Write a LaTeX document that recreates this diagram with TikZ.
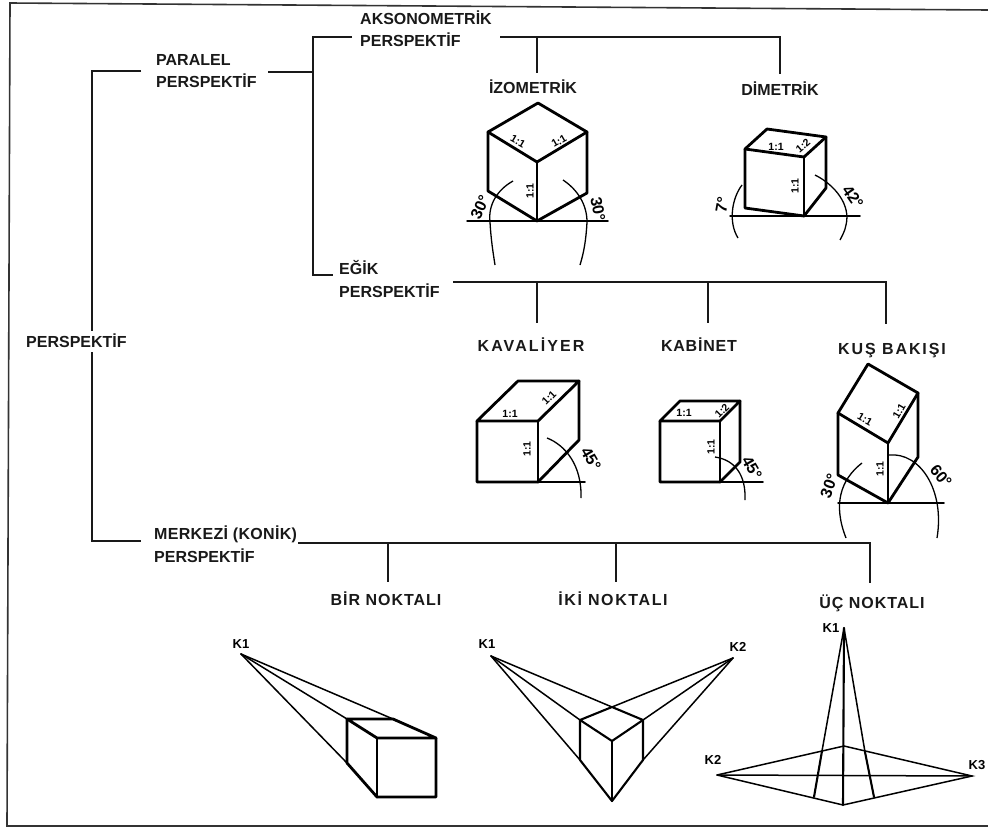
\documentclass[tikz,border=0pt]{standalone}
\usepackage{fontspec}
\setmainfont{Liberation Sans}
\newcommand{\lsp}[1]{\addfontfeature{LetterSpace=#1}}
\tikzset{
 x=1pt,y=-1pt,
 frame/.style={draw=black!80,line width=1.6pt},
 tree/.style={draw=black!90,line width=1.6pt},
 thick edge/.style={draw=black,line width=2.8pt,line join=round,line cap=round},
 mid edge/.style={draw=black,line width=2.1pt,line join=round,line cap=round},
 thin edge/.style={draw=black,line width=1.5pt,line cap=round},
 arcline/.style={draw=black,line width=1.3pt},
 lab/.style={font=\fontsize{16}{22.5}\selectfont\bfseries,inner sep=0pt,align=left,text=black!90},
 small/.style={font=\fontsize{13}{13}\selectfont\bfseries,inner sep=0pt},
 ratio/.style={font=\fontsize{10.5}{10.5}\selectfont\bfseries,inner sep=0pt},
 ang/.style={font=\fontsize{16}{16}\selectfont\bfseries,inner sep=0pt},
}
\begin{document}
\begin{tikzpicture}
\useasboundingbox (0,0) rectangle (988,835);
\fill[white] (0,0) rectangle (988,835);
\draw[frame] (988,10) -- (10,3) -- (7,826) -- (988,826);
% labels
\node[lab,anchor=west] (pers) at (26,341) {PERSPEKTİF};
\node[lab,anchor=west] (par) at (156,71) {PARALEL\\PERSPEKTİF};
\node[lab,anchor=west,font=\fontsize{16}{22}\selectfont\bfseries] (aks) at (360,29) {AKSONOMETRİK\\PERSPEKTİF};
\node[lab,anchor=west] (egik) at (339,279) {EĞİK\\PERSPEKTİF};
\node[lab,anchor=west] (merk) at (154,544) {\lsp{2}MERKEZİ (KONİK)\\PERSPEKTİF};
\node[lab] (izo) at (533,87) {İZOMETRİK};
\node[lab] (dim) at (780,89) {DİMETRİK};
\node[lab] (kav) at (531,345) {\lsp{13}KAVALİYER};
\node[lab] (kab) at (699,345) {\lsp{5}KABİNET};
\node[lab] (kus) at (892,351) {\lsp{12}KUŞ BAKIŞI};
\node[lab] (bir) at (386,599) {\lsp{6}BİR NOKTALI};
\node[lab] (iki) at (613,599) {\lsp{10}İKİ NOKTALI};
\node[lab] (uc) at (872,603) {\lsp{6}ÜÇ NOKTALI};
% tree
\coordinate (pt) at (92,71);
\coordinate (pb) at (92,541);
\coordinate (j1) at (313,72);
\coordinate (j1t) at (313,37);
\coordinate (j1b) at (313,275);
\coordinate (j2) at (537,37);
\coordinate (j3) at (780,37);
\coordinate (j4) at (537,282);
\coordinate (j5) at (708,282);
\coordinate (j6) at (886,282);
\coordinate (j7) at (388,543);
\coordinate (j8) at (616,543);
\coordinate (j9) at (870,543);
\draw[tree] (141,71) -- (pt) -- (92,331);
\draw[tree] (92,352) -- (pb) -- (141,541);
\draw[tree] (268,72) -- (j1);
\draw[tree] (352,37) -- (j1t) -- (j1b) -- (333,275);
\draw[tree] (500,37) -- (j3) -- (780,74);
\draw[tree] (j2) -- (537,73);
\draw[tree] (453,282) -- (j6) -- (886,324);
\draw[tree] (j4) -- (537,323);
\draw[tree] (j5) -- (708,323);
\draw[tree] (298,543) -- (j9) -- (870,583);
\draw[tree] (j7) -- (388,582);
\draw[tree] (j8) -- (616,582);
% izometrik
\coordinate (i1) at (538,103);\coordinate (i2) at (587,132);\coordinate (i3) at (537,162);\coordinate (i4) at (488,132);
\coordinate (i5) at (488,191);\coordinate (i6) at (537,221);\coordinate (i7) at (587,193);
\draw[thick edge] (i1)--(i2)--(i3)--(i4)--cycle;
\draw[thick edge] (i4)--(i5)--(i6)--(i7)--(i2);
\draw[thick edge] (i3)--(i6);
\draw[thin edge] (467,221)--(608,221);
\draw[arcline] (513,181) .. controls (497,190) and (488,205) .. (490,222) .. controls (491,240) and (493,252) .. (495,265);
\draw[arcline] (563,180) .. controls (578,190) and (587,205) .. (587,222) .. controls (586,240) and (584,252) .. (580,265);
\node[ratio,rotate=-30] at (518,141) {1:1};
\node[ratio,rotate=30] at (559,141) {1:1};
\node[ratio,rotate=90] at (530,191) {1:1};
\node[ang,rotate=65] at (480,207) {30°};
\node[ang,rotate=-80] at (598,209) {30°};
% dimetrik
\coordinate (d1) at (767,129);\coordinate (d2) at (826,137);\coordinate (d3) at (804,157);\coordinate (d4) at (745,149);
\coordinate (d5) at (745,208);\coordinate (d6) at (804,216);\coordinate (d7) at (826,188);
\draw[thick edge] (d1)--(d2)--(d3)--(d4)--cycle;
\draw[thick edge] (d4)--(d5)--(d6)--(d7)--(d2);
\draw[thick edge] (d3)--(d6);
\draw[thin edge] (730,216)--(860,216);
\draw[arcline] (742,185) .. controls (732,198) and (728,222) .. (738,238);
\draw[arcline] (815,175) .. controls (835,185) and (851,205) .. (846,225) .. controls (845,231) and (842,236) .. (840,240);
\node[ratio] at (776,147) {1:1};
\node[ratio,rotate=40] at (803,146) {1:2};
\node[ratio,rotate=90] at (795,186) {1:1};
\node[ang,rotate=80] at (722,205) {7°};
\node[ang,rotate=-55] at (853,197) {42°};
% kavaliyer
\coordinate (k1) at (518,381);\coordinate (k2) at (579,381);\coordinate (k3) at (538,421);\coordinate (k4) at (477,421);
\coordinate (k5) at (477,482);\coordinate (k6) at (538,482);\coordinate (k7) at (579,440);
\draw[thick edge] (k1)--(k2)--(k3)--(k4)--cycle;
\draw[thick edge] (k4)--(k5)--(k6)--(k7)--(k2);
\draw[thick edge] (k3)--(k6);
\draw[thin edge] (538,482)--(585,482);
\draw[arcline] (547,438) .. controls (565,445) and (582,465) .. (581,498);
\node[ratio] at (510,414) {1:1};
\node[ratio,rotate=45] at (549,398) {1:1};
\node[ratio,rotate=90] at (527,449) {1:1};
\node[ang,rotate=-60] at (591,459) {45°};
% kabinet
\coordinate (b1) at (680,401);\coordinate (b2) at (740,401);\coordinate (b3) at (720,421);\coordinate (b4) at (660,421);
\coordinate (b5) at (660,482);\coordinate (b6) at (720,482);\coordinate (b7) at (740,462);
\draw[thick edge] (b1)--(b2)--(b3)--(b4)--cycle;
\draw[thick edge] (b4)--(b5)--(b6)--(b7)--(b2);
\draw[thick edge] (b3)--(b6);
\draw[thin edge] (720,482)--(763,482);
\draw[arcline] (715,457) .. controls (735,460) and (746,475) .. (745,500);
\node[ratio] at (684,413) {1:1};
\node[ratio,rotate=45] at (722,411) {1:2};
\node[ratio,rotate=90] at (711,447) {1:1};
\node[ang,rotate=-60] at (752,468) {45°};
% kus bakisi
\coordinate (u1) at (868,364);\coordinate (u2) at (918,393);\coordinate (u3) at (888,443);\coordinate (u4) at (838,413);
\coordinate (u5) at (838,475);\coordinate (u6) at (888,503);\coordinate (u7) at (918,457);
\draw[thick edge] (u1)--(u2)--(u3)--(u4)--cycle;
\draw[thick edge] (u4)--(u5)--(u6)--(u7)--(u2);
\draw[thick edge] (u3)--(u6);
\draw[thin edge] (838,503)--(944,503);
\draw[arcline] (862,463) .. controls (840,480) and (833,505) .. (846,538);
\draw[arcline] (889,455) .. controls (920,452) and (945,490) .. (937,538);
\node[ratio,rotate=-30] at (865,419) {1:1};
\node[ratio,rotate=60] at (899,411) {1:1};
\node[ratio,rotate=90] at (880,469) {1:1};
\node[ang,rotate=70] at (829,486) {30°};
\node[ang,rotate=-50] at (941,476) {60°};
% bir noktali
\node[small] (bk) at (241,644) {K1};
\coordinate (c1) at (241,654);
\coordinate (f1) at (347,719);\coordinate (f2) at (393,719);\coordinate (f3) at (436,738);\coordinate (f4) at (377,738);
\coordinate (f5) at (347,763);\coordinate (f6) at (377,797);\coordinate (f7) at (436,797);
\draw[thin edge] (c1)--(f2);\draw[thin edge] (c1)--(f1);\draw[thin edge] (c1)--(f5);
\draw[thick edge] (f1)--(f2)--(f3)--(f4)--cycle;
\draw[thick edge] (f1)--(f5)--(f6)--(f7)--(f3);
\draw[thick edge] (f4)--(f6);
% iki noktali
\node[small] (ik1) at (487,644) {K1};
\node[small] (ik2) at (738,647) {K2};
\coordinate (a) at (491,656);\coordinate (bb) at (733,658);
\coordinate (g1) at (612,707);\coordinate (g2) at (643,720);\coordinate (g3) at (612,741);\coordinate (g4) at (580,720);
\coordinate (g5) at (580,760);\coordinate (g6) at (612,801);\coordinate (g7) at (643,760);
\draw[thin edge] (a)--(g1);\draw[thin edge] (a)--(g4);\draw[thin edge] (a)--(g5);
\draw[thin edge] (bb)--(g1);\draw[thin edge] (bb)--(g2);\draw[thin edge] (bb)--(g7);
\draw[mid edge] (g1)--(g2)--(g3)--(g4)--cycle;
\draw[mid edge] (g4)--(g5)--(g6)--(g7)--(g2);
\draw[mid edge] (g3)--(g6);
% uc noktali
\node[small] (uk1) at (831,628) {K1};
\node[small] (uk2) at (713,760) {K2};
\node[small] (uk3) at (977,765) {K3};
\coordinate (t1) at (844,628);\coordinate (t2) at (717,775);\coordinate (t3) at (972,776);
\coordinate (h1) at (844,746);\coordinate (hl) at (822,751);\coordinate (hr) at (865,752);
\coordinate (bl) at (814,797);\coordinate (bm) at (843,805);\coordinate (br) at (874,797);
\draw[thin edge] (t1)--(hl);\draw[thin edge] (t1)--(hr);
\draw[mid edge] (t1)--(bm);
\draw[thin edge] (t2)--(h1)--(t3)--(bm)--(t2);
\draw[thin edge] (t2)--(t3);
\draw[mid edge] (hl)--(bl);\draw[mid edge] (hr)--(br);
\end{tikzpicture}
\end{document}
